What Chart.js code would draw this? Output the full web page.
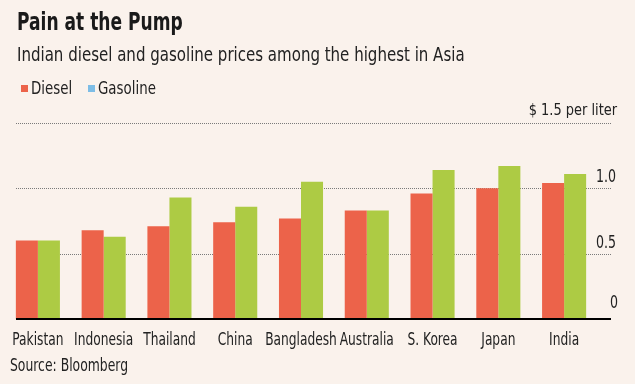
<!DOCTYPE html>
<html lang="en">
<head>
    <meta charset="UTF-8">
    <title>Pain at the Pump</title>
    <script src="https://cdn.jsdelivr.net/npm/chart.js"></script>
    <style>
        body { margin: 0; background: #faf2ec; }
        .wrap {
            position: relative;
            width: 635px;
            height: 384px;
            background: #faf2ec;
            font-family: "Liberation Sans Narrow", "DejaVu Sans Condensed", "Roboto", sans-serif;
            color: #1a1a1a;
        }
        .wrap canvas { position: absolute; left: 0; top: 0; }
        /* the original uses a narrow face, so squeeze the text horizontally */
        .txt { position: absolute; white-space: nowrap; transform: scaleX(0.76); transform-origin: 0 0; }
        .title { left: 17px; top: 7px; font-size: 25px; font-weight: bold; line-height: 30px; }
        .subtitle { left: 17px; top: 41px; font-size: 20px; line-height: 26px; color: #222; transform: scaleX(0.835); }
        .legend { top: 77px; font-size: 17.5px; line-height: 22px; color: #222; transform: scaleX(0.85); }
        .sw { position: absolute; top: 85px; width: 7px; height: 7px; }
        .source { left: 10px; top: 355px; font-size: 17px; line-height: 20px; color: #222; transform: scaleX(0.81); }
    </style>
</head>
<body>
    <div class="wrap">
        <canvas id="pumpChart" width="635" height="384"></canvas>
        <div class="txt title">Pain at the Pump</div>
        <div class="txt subtitle">Indian diesel and gasoline prices among the highest in Asia</div>
        <div class="sw" style="left:21px; background:#ec634a"></div>
        <div class="txt legend" style="left:31px">Diesel</div>
        <div class="sw" style="left:88px; background:#7dbde6"></div>
        <div class="txt legend" style="left:98px">Gasoline</div>
        <div class="txt source">Source: Bloomberg</div>
    </div>

    <script>
        // values, $ per liter
        const countries = ['Pakistan', 'Indonesia', 'Thailand', 'China', 'Bangladesh', 'Australia', 'S. Korea', 'Japan', 'India'];
        const diesel = [0.60, 0.68, 0.71, 0.74, 0.77, 0.83, 0.96, 1.00, 1.04];
        const gasoline = [0.60, 0.63, 0.93, 0.86, 1.05, 0.83, 1.14, 1.17, 1.11];
        const yTicks = [0, 0.5, 1.0, 1.5];
        const yTickLabels = ['0', '0.5', '1.0', '$ 1.5 per liter'];

        const dieselColor = '#ec634a';
        const gasolineColor = '#adcb44';
        const fontFamily = '"Liberation Sans Narrow", "DejaVu Sans Condensed", "Roboto", sans-serif';

        // squeezed text, anchored at (x, y)
        function narrowText(ctx, text, x, y, align, squeeze) {
            ctx.save();
            ctx.translate(x, y);
            ctx.scale(squeeze, 1);
            ctx.textAlign = align;
            ctx.fillText(text, 0, 0);
            ctx.restore();
        }

        // dotted gridlines behind the bars, baseline and labels on top
        const gridPlugin = {
            id: 'wsjGrid',
            beforeDatasetsDraw(chart) {
                const ctx = chart.ctx;
                const y = chart.scales.y;
                ctx.save();
                ctx.strokeStyle = '#7a7a7a';
                ctx.lineWidth = 1;
                ctx.setLineDash([1, 1]);
                yTicks.forEach(v => {
                    if (v === 0) return;
                    const py = Math.round(y.getPixelForValue(v)) + 0.5;
                    ctx.beginPath();
                    ctx.moveTo(16, py);
                    ctx.lineTo(612, py);
                    ctx.stroke();
                });
                ctx.restore();
            },
            afterDatasetsDraw(chart) {
                const ctx = chart.ctx;
                const x = chart.scales.x;
                const y = chart.scales.y;
                ctx.save();
                const y0 = Math.round(y.getPixelForValue(0));
                ctx.strokeStyle = '#000';
                ctx.lineWidth = 2;
                ctx.beginPath();
                ctx.moveTo(16, y0);
                ctx.lineTo(611, y0);
                ctx.stroke();

                ctx.fillStyle = '#222';
                ctx.textBaseline = 'alphabetic';
                yTicks.forEach((v, i) => {
                    const py = y.getPixelForValue(v);
                    if (i === yTicks.length - 1) {
                        ctx.font = '16px ' + fontFamily;
                        narrowText(ctx, yTickLabels[i], 617, py - 8, 'right', 0.9);
                    } else if (v === 0) {
                        ctx.font = '17.5px ' + fontFamily;
                        narrowText(ctx, yTickLabels[i], 618, py - 11, 'right', 0.8);
                    } else {
                        ctx.font = '17.5px ' + fontFamily;
                        narrowText(ctx, yTickLabels[i], 616, py - 6, 'right', 0.8);
                    }
                });

                // category labels under the baseline
                ctx.font = '17px ' + fontFamily;
                countries.forEach((c, i) => {
                    narrowText(ctx, c, x.getPixelForValue(i), y0 + 26, 'center', 0.8);
                });
                ctx.restore();
            }
        };

        new Chart(document.getElementById('pumpChart'), {
            type: 'bar',
            data: {
                labels: countries,
                datasets: [
                    { label: 'Diesel', data: diesel, backgroundColor: dieselColor },
                    { label: 'Gasoline', data: gasoline, backgroundColor: gasolineColor }
                ]
            },
            options: {
                responsive: false,
                animation: false,
                layout: { padding: { left: 5, right: 38, top: 123, bottom: 65 } },
                datasets: { bar: { categoryPercentage: 0.67, barPercentage: 1.0 } },
                plugins: { legend: { display: false }, tooltip: { enabled: false } },
                scales: {
                    x: { display: false },
                    y: { display: false, min: 0, max: 1.5 }
                }
            },
            plugins: [gridPlugin]
        });
    </script>
</body>
</html>
